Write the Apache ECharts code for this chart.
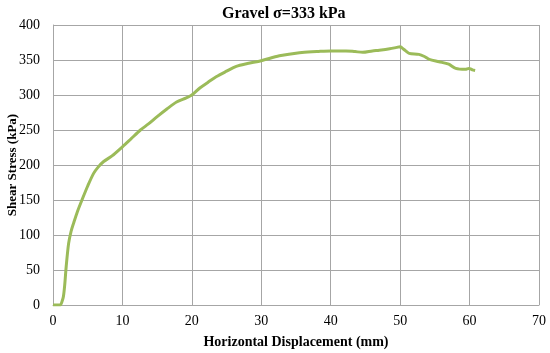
<!DOCTYPE html>
<html>
<head>
<meta charset="utf-8">
<script src="https://cdn.jsdelivr.net/npm/echarts@6/dist/echarts.min.js"></script>
<style>html,body{margin:0;padding:0;background:#fff}#c{width:550px;height:353px}</style>
</head>
<body>
<div id="c"></div>
<script>
var titleText = 'Gravel σ=333 kPa';
var xName = 'Horizontal Displacement (mm)';
var yName = 'Shear Stress (kPa)';
var displacement = [0, 0.5, 1.05, 1.3, 1.5, 1.7, 1.9, 2.25, 2.6, 2.97, 3.5, 4.17, 5.0, 5.85, 6.5, 7.3, 8.5, 10, 11.2, 12.6, 13.8, 15, 16.4, 17.8, 19.2, 20, 21.15, 22.3, 23.5, 25, 26.4, 28, 30, 32.6, 35.5, 38, 40, 42.2, 43.5, 44.6, 46, 47, 48.5, 49.5, 50, 50.3, 50.8, 51.3, 52.7, 53.5, 54.2, 55.6, 57, 58, 59.4, 59.9, 60.4, 60.8];
var stress = [0, 0, 0, 5, 12, 30, 55, 88, 105, 117, 133, 150, 170, 188, 197, 205, 213, 226, 237, 250, 259, 269, 280, 290, 296, 300, 310, 318, 326, 334, 341, 345, 349, 356, 360.5, 362, 363, 363, 362, 361, 363, 364, 366, 368, 369, 367, 363, 359.5, 358, 355, 351, 347.6, 344, 338, 336.7, 338, 336, 335];
var xMin = 0, xMax = 70, xStep = 10;
var yMin = 0, yMax = 400, yStep = 50;

var data = displacement.map(function (x, i) { return [x, stress[i]]; });
var font = 'Liberation Serif';
var chart = echarts.init(document.getElementById('c'));
chart.setOption({
  animation: false,
  title: {
    text: titleText, left: 217, top: 1,
    textStyle: { fontFamily: font, fontWeight: 'bold', fontSize: 16, color: '#000' }
  },
  grid: { left: 53, right: 11, top: 25, bottom: 48, containLabel: false, outerBoundsMode: 'none' },
  xAxis: {
    type: 'value', min: xMin, max: xMax, interval: xStep,
    name: xName, nameLocation: 'middle', nameGap: 30, nameMoveOverlap: false,
    nameTextStyle: { fontFamily: font, fontWeight: 'bold', fontSize: 14, color: '#000' },
    axisLine: { lineStyle: { color: '#a6a6a6', width: 1 } },
    axisTick: { show: false },
    axisLabel: { fontFamily: font, fontSize: 14, color: '#000', margin: 9 },
    splitLine: { show: true, lineStyle: { color: '#a6a6a6', width: 1 } }
  },
  yAxis: {
    type: 'value', min: yMin, max: yMax, interval: yStep,
    name: yName, nameLocation: 'middle', nameGap: 34, nameRotate: 90, nameMoveOverlap: false,
    nameTextStyle: { fontFamily: font, fontWeight: 'bold', fontSize: 13, color: '#000' },
    axisLine: { show: true, lineStyle: { color: '#a6a6a6', width: 1 } },
    axisTick: { show: false },
    axisLabel: { fontFamily: font, fontSize: 14, color: '#000', margin: 13 },
    splitLine: { show: true, lineStyle: { color: '#a6a6a6', width: 1 } }
  },
  series: [{
    type: 'line', data: data, showSymbol: false, smooth: 0.3,
    lineStyle: { color: '#9bbb59', width: 3 }
  }]
});
</script>
</body>
</html>
